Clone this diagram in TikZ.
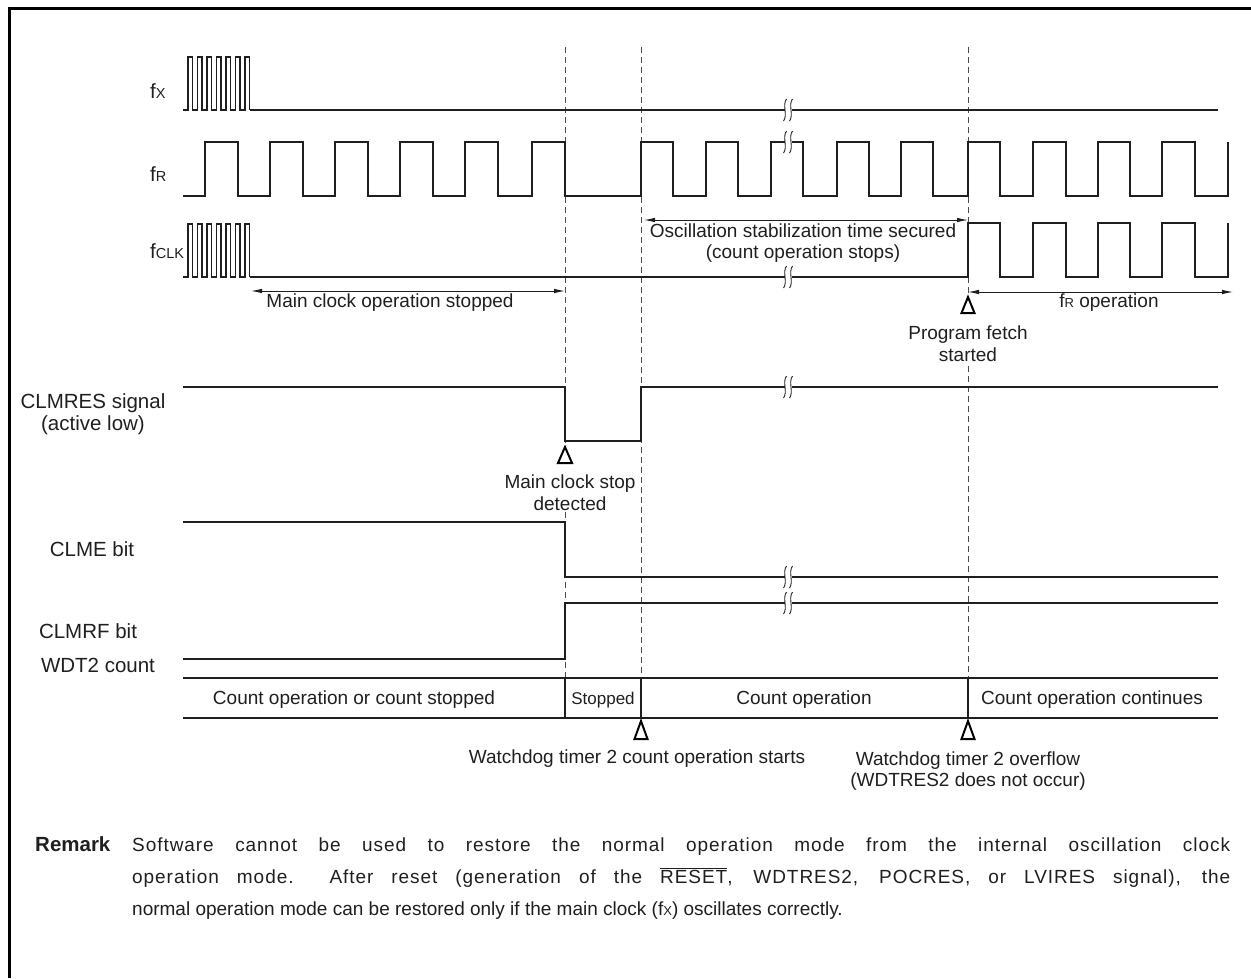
\documentclass[tikz,border=0pt]{standalone}
\usepackage{fontspec}
\setmainfont{Liberation Sans}
\usetikzlibrary{arrows.meta}
\newcommand{\sz}{\fontsize{19}{21.5}\selectfont}
\newcommand{\lsz}{\fontsize{20.5}{22.5}\selectfont}
\newcommand{\sml}[1]{{\fontsize{13}{13}\selectfont #1}}
\newcommand{\smlb}[1]{{\fontsize{14.5}{14.5}\selectfont #1}}
\newcommand{\spreadtxt}{\addfontfeature{LetterSpace=5}}
\begin{document}
\begin{tikzpicture}[x=1pt,y=-1pt,
  sig/.style={line width=2.2pt, line join=miter, color=black!88},
  burst/.style={line width=1.6pt, line join=miter, color=black!88},
  guide/.style={line width=1pt, dash pattern=on 6pt off 4pt, color=black!70},
  dimarrow/.style={line width=0.9pt, color=black!88, {Latex[length=11pt,width=4.5pt]}-{Latex[length=11pt,width=4.5pt]}},
  evt/.style={line width=2pt, draw=black, fill=white, line join=miter},
  txt/.style={font=\sz, inner sep=0pt, text=black!88},
  lbl/.style={txt, align=center},
  sigl/.style={font=\lsz, inner sep=0pt, text=black!88, align=center},
  brk/.pic={
    \fill[white] (-3.5,-5) rectangle (3.5,5);
    \draw[line width=0.9pt, black!88] (-1.5,-11) .. controls (-6,-5) and (0,5) .. (-4.5,11);
    \draw[line width=0.9pt, black!88] (4.5,-11) .. controls (0,-5) and (6,5) .. (1.5,11);
  }
]
\useasboundingbox (0,0) rectangle (1251,978);
% frame
\draw[line width=3pt, line join=miter] (9,978) -- (9,8.5) -- (1251,8.5);

% guides
\draw[guide] (565,47) -- (565,447);
\draw[guide] (565,512) -- (565,678);
\draw[guide] (641,47) -- (641,678);
\draw[guide] (968,47) -- (968,296);
\draw[guide] (968,366) -- (968,678);

% fX
\draw[burst] (183,110) \foreach \i in {0,...,6}{ -- ({188+9.5*\i},110) -- ({188+9.5*\i},57) -- ({192.5+9.5*\i},57) -- ({192.5+9.5*\i},110)};
\draw[sig] (249.5,110) -- (1218,110);
% fR
\draw[sig] (183,196) -- (205,196) -- (205,142) -- (238,142) -- (238,196) -- (270,196) -- (270,142) -- (303,142) -- (303,196) -- (335,196) -- (335,142) -- (368,142) -- (368,196) -- (400,196) -- (400,142) -- (433,142) -- (433,196) -- (465,196) -- (465,142) -- (498,142) -- (498,196) -- (532,196) -- (532,142) -- (565,142) -- (565,196) -- (641,196) -- (641,142) -- (673,142) -- (673,196) -- (706,196) -- (706,142) -- (738,142) -- (738,196) -- (771,196) -- (771,142) -- (803,142) -- (803,196) -- (837,196) -- (837,142) -- (869,142) -- (869,196) -- (901,196) -- (901,142) -- (933,142) -- (933,196) -- (968,196) -- (968,142) -- (1000,142) -- (1000,196) -- (1033,196) -- (1033,142) -- (1066,142) -- (1066,196) -- (1098,196) -- (1098,142) -- (1130,142) -- (1130,196) -- (1162,196) -- (1162,142) -- (1195,142) -- (1195,196) -- (1228,196) -- (1228,142);
% fCLK
\draw[burst] (183,277) \foreach \i in {0,...,6}{ -- ({188+9.5*\i},277) -- ({188+9.5*\i},224) -- ({192.5+9.5*\i},224) -- ({192.5+9.5*\i},277)};
\draw[sig] (249.5,277) -- (968,277) -- (968,223) -- (1000,223) -- (1000,277) -- (1033,277) -- (1033,223) -- (1066,223) -- (1066,277) -- (1098,277) -- (1098,223) -- (1130,223) -- (1130,277) -- (1162,277) -- (1162,223) -- (1195,223) -- (1195,277) -- (1228,277) -- (1228,223);
% CLMRES
\draw[sig] (183,387) -- (565,387) -- (565,441) -- (641,441) -- (641,387) -- (1218,387);
% CLME
\draw[sig] (183,522) -- (565,522) -- (565,577) -- (1218,577);
% CLMRF
\draw[sig] (183,659) -- (565,659) -- (565,603) -- (1218,603);
% WDT2
\draw[sig] (183,678) -- (1218,678);
\draw[sig] (183,718) -- (1218,718);
\draw[sig] (565,678) -- (565,718);
\draw[sig] (641,678) -- (641,718);
\draw[sig] (968,678) -- (968,718);

% break marks
\pic at (788,110) {brk};
\pic at (788,142) {brk};
\pic at (788,277) {brk};
\pic at (788,387) {brk};
\pic at (788,577) {brk};
\pic at (788,603) {brk};

% signal labels
\node[sigl, anchor=base west] (lfx) at (150,98) {f\smlb{X}};
\node[sigl, anchor=base west] (lfr) at (150,181) {f\smlb{R}};
\node[sigl, anchor=base west] (lfclk) at (150,258) {f\smlb{CLK}};
\node[sigl] (lclmres) at (93,414) {CLMRES signal\\(active low)};
\node[sigl] (lclme) at (92,549) {CLME bit};
\node[sigl] (lclmrf) at (88,631) {CLMRF bit};
\node[sigl] (lwdt) at (98,665) {WDT2 count};

% arrows
\coordinate (mcA) at (251,291); \coordinate (mcB) at (565,291);
\draw[dimarrow] (mcA) -- (mcB);
\node[txt] (tmc) at (390,303) {Main clock operation stopped};
\coordinate (osA) at (644,220); \coordinate (osB) at (968,220);
\draw[dimarrow] (osA) -- (osB);
\node[lbl] (tos) at (803,243) {Oscillation stabilization time secured\\(count operation stops)};
\coordinate (frA) at (968,292); \coordinate (frB) at (1233,292);
\draw[dimarrow] (frA) -- (frB);
\node[txt] (tfr) at (1109,303) {f\sml{R} operation};

% event triangles
\draw[evt] (565,447) -- (558,463) -- (572,463) -- cycle;
\draw[evt] (968,297) -- (961.5,313) -- (974.5,313) -- cycle;
\draw[evt] (641,721) -- (634.5,739) -- (647.5,739) -- cycle;
\draw[evt] (968,721) -- (961.5,739) -- (974.5,739) -- cycle;

\node[lbl] (tpf) at (968,343.5) {Program fetch\\started};
\node[lbl] (tmcs) at (570,492.5) {Main clock stop\\detected};
\node[txt] (twd1) at (637,759) {Watchdog timer 2 count operation starts};
\node[lbl] (twd2) at (968,771) {Watchdog timer 2 overflow\\(WDTRES2 does not occur)};

% WDT2 texts
\node[txt] (c1) at (354,700) {Count operation or count stopped};
\node[txt, font=\fontsize{17}{20}\selectfont] (c2) at (603,700) {Stopped};
\node[txt] (c3) at (804,700) {Count operation};
\node[txt] (c4) at (1092,700) {Count operation continues};

% remark
\node[txt, font=\fontsize{20.5}{22}\selectfont\bfseries, anchor=base west] (rmk) at (35,851) {Remark};
\node[txt, anchor=base west] (r1) at (132,851) {\spreadtxt\makebox[1098pt][s]{Software cannot be used to restore the normal operation mode from the internal oscillation clock}};
\node[txt, anchor=base west] (r2) at (132,883) {\spreadtxt\makebox[1098pt][s]{operation mode.\ \ After reset (generation of the $\overline{\hbox{RESET}}$, WDTRES2, POCRES, or LVIRES signal), the}};
\node[txt, anchor=base west] (r3) at (132,915) {normal operation mode can be restored only if the main clock (f\sml{X}) oscillates correctly.};
\end{tikzpicture}
\end{document}
